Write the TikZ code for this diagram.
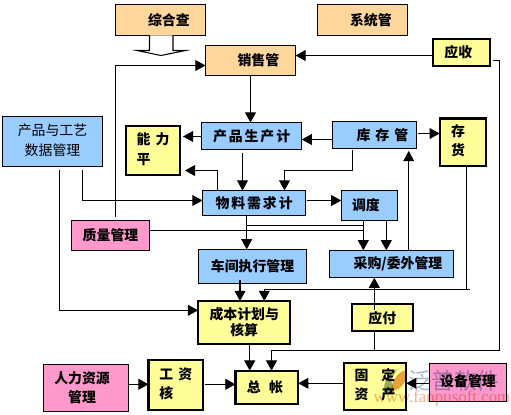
\documentclass[tikz,border=0pt]{standalone}
\usepackage{fontspec}
\setmainfont{Noto Sans CJK SC}[WordSpace=1.6]
\newfontfamily\markfont{Liberation Serif}
\usetikzlibrary{arrows.meta}
\definecolor{tanfill}{HTML}{FFD69B}
\definecolor{bluefill}{HTML}{99CCFF}
\definecolor{yellowfill}{HTML}{FFFF99}
\definecolor{pinkfill}{HTML}{FF99CC}
\definecolor{markblue}{HTML}{A9B8D2}
\definecolor{markorange}{HTML}{EDB193}
\definecolor{leaforange}{HTML}{E8A060}
\definecolor{leafgreen}{HTML}{9DAA9D}
\tikzset{
  stock/.style={draw,outer sep=0pt,inner sep=0pt,line width=0.6pt,align=center,
    font=\fontsize{7.9}{11}\selectfont\bfseries},
  tanbox/.style={stock,fill=tanfill},
  bluebox/.style={stock,fill=bluefill},
  pinkbox/.style={stock,fill=pinkfill},
  yellowbox/.style={stock,fill=yellowfill,line width=1.2pt},
  boxsize/.style 2 args={minimum width=#1*0.02cm,minimum height=#2*0.02cm},
  widetext/.style={font=\fontsize{7.9}{11}\selectfont\bfseries\addfontfeature{LetterSpace=14}},
  link/.style={line width=0.6pt},
  linkto/.style={link,-{Triangle[length=5.8pt,width=6.2pt]}},
}
\begin{document}
\begin{tikzpicture}[x=0.02cm,y=-0.02cm,line cap=butt,line join=miter]
\useasboundingbox (0,0) rectangle (511,414);
\fill[white] (0,0) rectangle (511,414);
% top row
\node[tanbox,boxsize={90}{30.5}] (audit) at (160.5,20.2) {\hspace*{9.6pt}综合查};
\node[tanbox,boxsize={90}{30}] (sales) at (250.5,60.5) {\hspace*{9pt}销售管};
\node[tanbox,boxsize={90}{30.5}] (system) at (362.5,20.2) {\hspace*{9.6pt}系统管};
\node[yellowbox,boxsize={57}{27.5}] (recv) at (461.3,52.3) {\raisebox{-1pt}{\hspace*{-3.4pt}应收}};
% planning row
\node[bluebox,boxsize={100}{50},font=\fontsize{7.9}{11}\selectfont] (craft) at (52.5,141.5) {\raisebox{-1pt}{\begin{tabular}{@{}c@{}}产品与工艺\\[0.4pt]数据管理\end{tabular}}};
\node[yellowbox,boxsize={54}{49}] (capacity) at (153,150.5) {\begin{tabular}{@{}l@{}}能 力\\平\end{tabular}};
\node[bluebox,boxsize={100.2}{26.5},widetext] (plan) at (251.6,135.8) {\raisebox{-1pt}{产品生产计}};
\node[bluebox,boxsize={84.4}{27}] (stock) at (374.5,135) {\hspace*{9pt}库 存 管};
\node[yellowbox,boxsize={46.6}{47.5}] (goods) at (463,142.2) {\raisebox{-2.2pt}{\hspace*{-5.6pt}\begin{tabular}{@{}l@{}}存\\货\end{tabular}}};
% material row
\node[bluebox,boxsize={103.2}{24.8},widetext] (mrp) at (254.1,202.9) {物料需求计};
\node[bluebox,boxsize={56.4}{30.2}] (dispatch) at (369.5,205.6) {\raisebox{1pt}{\hspace*{-4pt}调度}};
\node[pinkbox,boxsize={78}{30}] (quality) at (110.5,235.3) {质量管理};
\node[bluebox,boxsize={108.2}{34.4}] (shop) at (252.6,266.5) {车间执行管理};
\node[bluebox,boxsize={124.4}{27.4}] (purchase) at (391.5,264) {\hspace*{7.4pt}采购/委外管理};
% cost row
\node[yellowbox,boxsize={92.3}{43},font=\fontsize{7.9}{9}\selectfont\bfseries] (cost) at (244.2,322.5) {成本计划与\\核算};
\node[yellowbox,boxsize={61.3}{27.3}] (pay) at (382.3,317.7) {\raisebox{-1pt}{应付}};
% ledger row
\node[pinkbox,boxsize={85}{46.6}] (staff) at (86,388) {\hspace*{-4.5pt}人力资源\\\hspace*{-4.5pt}管理};
\node[yellowbox,boxsize={54.5}{50}] (wage) at (175.8,385) {\begin{tabular}{@{}l@{}}工 资\\核\end{tabular}};
\node[yellowbox,boxsize={62.8}{33.3},widetext] (ledger) at (266.9,387.3) {\hspace*{-2.2pt}总 帐};
\node[yellowbox,boxsize={62.6}{47.3}] (asset) at (375,386.3) {\raisebox{-2.8pt}{\begin{tabular}{@{}l@{}}固\hspace{7.4pt}定\\资\hspace{7.4pt}产\end{tabular}}};
\node[pinkbox,boxsize={77.4}{37.6}] (equip) at (468,382.5) {\raisebox{2.1pt}{设备管理}};
% open arrow under the first box
\draw[link,fill=white] (audit.south -| 149.5,0) -- (149.5,50.5) -- (137,50.5) -- (161,55.5)
  -- (185.5,50.5) -- (173,50.5) -- (audit.south -| 173,0);
% junctions
\coordinate (goodsbus) at (470,289.3);
\coordinate (ledgerbus) at (499.5,350.3);
\coordinate (mrpbranch) at (246.7,225.3);
% connectors
\draw[linkto,shorten <=1.9pt] (quality.north -| 115.5,0) -- (115.5,65.5) -- (sales.west |- 0,65.5);
\draw[linkto] (sales.south) -- (plan.north -| sales.south);
\draw[linkto] (recv.west |- 0,55.5) -- (sales.east |- 0,55.5);
\draw[linkto,shorten <=1.8pt] (recv.east |- 0,60.5) -- (499.5,60.5) -- (ledgerbus) -- (271.5,350.3) -- (ledger.north -| 271.5,0);
\draw[linkto,shorten >=1.7pt] (plan.west |- 0,136.5) -- (capacity.east |- 0,136.5);
\draw[linkto,shorten >=2.8pt] (mrp.north -| 217.5,0) -- (217.5,170.5) -- (capacity.east |- 0,170.5);
\draw[linkto,shorten <=2.2pt] (plan.south -| 242.5,0) -- (mrp.north -| 242.5,0);
\draw[linkto] (stock.west |- 0,139.5) -- (plan.east |- 0,139.5);
\draw[linkto,shorten <=1pt] (stock.south -| 352.7,0) -- (352.7,170.5) -- (284.5,170.5) -- (mrp.north -| 284.5,0);
\draw[linkto,shorten <=1pt] (stock.east |- 0,133.5) -- (goods.west |- 0,133.5);
\draw[linkto,shorten >=1.4pt] (purchase.north -| 408.7,0) -- (stock.south -| 408.7,0);
\draw[link] (goods.south -| 466.3,0) -- (466.3,289.3);
\draw[linkto] (goodsbus) -- (264.3,289.3) -- (cost.north -| 264.3,0);
\draw[linkto,shorten <=2pt] (craft.south -| 59.5,0) -- (59.5,310.3) -- (cost.west |- 0,310.3);
\draw[linkto,shorten <=2pt] (craft.south -| 82.5,0) -- (82.5,200.5) -- (mrp.west |- 0,200.5);
\draw[linkto,shorten <=1pt] (mrp.east |- 0,200.5) -- (dispatch.west |- 0,200.5);
\draw[linkto] (dispatch.south -| 386.3,0) -- (purchase.north -| 386.3,0);
\draw[linkto] (dispatch.south -| 363.3,0) -- (purchase.north -| 363.3,0);
\draw[link] (quality.east |- 0,230.3) -- (363.3,230.3);
\draw[link] (mrpbranch) -- (363.3,225.3);
\draw[linkto] (mrp.south -| 246.7,0) -- (shop.north -| 246.7,0);
\draw[linkto,shorten <=-2pt] (shop.south -| 240,0) -- (cost.north -| 240,0);
\draw[linkto] (cost.south -| 249.7,0) -- (ledger.north -| 249.7,0);
\draw[linkto,shorten <=-3.4pt] (pay.north -| 374.3,0) -- (purchase.south -| 374.3,0);
\draw[link] (pay.south -| 374.3,0) -- (374.3,350.3);
\draw[linkto] (staff.east |- 0,384.3) -- (wage.west |- 0,384.3);
\draw[linkto,shorten <=1pt] (wage.east |- 0,384.3) -- (ledger.west |- 0,384.3);
\draw[linkto] (asset.west |- 0,383.3) -- (ledger.east |- 0,383.3);
\draw[linkto] (equip.west |- 0,383.3) -- (asset.east |- 0,383.3);
% site mark
\begin{scope}[blend mode=multiply]
\fill[leaforange] (391,391) .. controls (392,380) and (398,372) .. (406,370) .. controls (408,380) and (402,390) .. (391,391);
\fill[leafgreen] (384,392) .. controls (383,382) and (388,374) .. (397,369) -- (391,380) -- (395,394) -- cycle;
\node[text=markblue,font=\fontsize{13}{13}\selectfont,inner sep=0pt] (markcn) at (454,381) {泛普软件};
\node[text=markorange,font=\markfont\fontsize{9.6}{9.6}\selectfont,inner sep=0pt] (markurl) at (442,398) {www.fanpusoft.com};
\end{scope}
\end{tikzpicture}
\end{document}
